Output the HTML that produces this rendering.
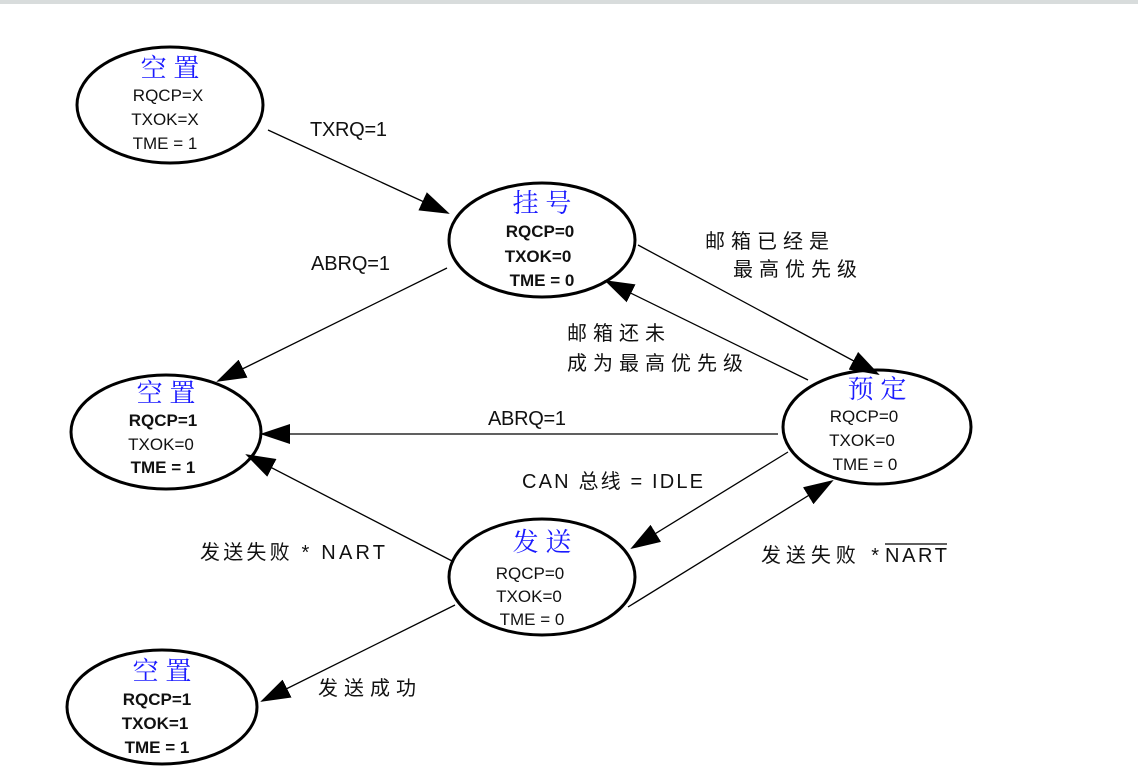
<!DOCTYPE html>
<html><head><meta charset="utf-8"><style>
body{margin:0;background:#fff}
svg{display:block}
text{font-family:"Liberation Sans","Noto Sans CJK SC",sans-serif;}
.t{font-size:17px;text-anchor:middle;fill:#111}
.b{font-weight:bold}
.h{font-family:"Noto Serif CJK SC","Liberation Serif",serif;font-size:26px;fill:#1a1aff;text-anchor:middle}
.l{font-size:20px;fill:#111}
</style></head><body>
<svg width="1138" height="771" viewBox="0 0 1138 771">
<defs><marker id="a" markerWidth="30" markerHeight="20" refX="28" refY="10" orient="auto" markerUnits="userSpaceOnUse"><path d="M0,0 L30,10 L0,20 Z" fill="#000"/></marker></defs>
<rect x="0" y="0" width="1138" height="4" fill="#d8dcdc"/>
<g fill="none" stroke="#000" stroke-width="3">
<ellipse cx="170" cy="105" rx="93" ry="58"/>
<ellipse cx="542" cy="240" rx="93" ry="57"/>
<ellipse cx="166" cy="432" rx="95" ry="57"/>
<ellipse cx="877" cy="427" rx="94" ry="57"/>
<ellipse cx="542" cy="577" rx="93" ry="58"/>
<ellipse cx="162" cy="707" rx="95" ry="57"/>
</g>
<g stroke="#000" stroke-width="1.3" marker-end="url(#a)">
<line x1="268" y1="130" x2="448" y2="213"/>
<line x1="447" y1="268" x2="218" y2="381"/>
<line x1="638" y1="245" x2="878" y2="374"/>
<line x1="808" y1="380" x2="606" y2="281"/>
<line x1="778" y1="434" x2="262" y2="434"/>
<line x1="788" y1="452" x2="632" y2="548"/>
<line x1="628" y1="607" x2="832" y2="481"/>
<line x1="454" y1="562" x2="247" y2="455"/>
<line x1="455" y1="605" x2="262" y2="701"/>
</g>
<text class="h" x="170" y="77">空 置</text>
<text class="t" x="168" y="101">RQCP=X</text>
<text class="t" x="165" y="125">TXOK=X</text>
<text class="t" x="165" y="149">TME = 1</text>
<text class="h" x="542" y="212">挂 号</text>
<text class="t b" x="540" y="237">RQCP=0</text>
<text class="t b" x="538" y="262">TXOK=0</text>
<text class="t b" x="542" y="286">TME = 0</text>
<text class="h" x="166" y="402">空 置</text>
<text class="t b" x="163" y="426">RQCP=1</text>
<text class="t" x="161" y="450">TXOK=0</text>
<text class="t b" x="163" y="473">TME = 1</text>
<text class="h" x="877" y="398">预 定</text>
<text class="t" x="864" y="422">RQCP=0</text>
<text class="t" x="862" y="446">TXOK=0</text>
<text class="t" x="865" y="470">TME = 0</text>
<text class="h" x="542" y="551">发 送</text>
<text class="t" x="530" y="579">RQCP=0</text>
<text class="t" x="529" y="602">TXOK=0</text>
<text class="t" x="532" y="625">TME = 0</text>
<text class="h" x="162" y="680">空 置</text>
<text class="t b" x="157" y="705">RQCP=1</text>
<text class="t b" x="155" y="729">TXOK=1</text>
<text class="t b" x="157" y="753">TME = 1</text>
<text class="l" x="310" y="136" textLength="77">TXRQ=1</text>
<text class="l" x="311" y="270" textLength="79">ABRQ=1</text>
<text class="l" x="705" y="248" textLength="124">邮箱已经是</text>
<text class="l" x="733" y="276" textLength="124">最高优先级</text>
<text class="l" x="567" y="340" textLength="98">邮箱还未</text>
<text class="l" x="567" y="370" textLength="176">成为最高优先级</text>
<text class="l" x="488" y="425" textLength="78">ABRQ=1</text>
<text class="l" x="522" y="488" textLength="181">CAN 总线 = IDLE</text>
<text class="l" x="200" y="559" textLength="185">发送失败 * NART</text>
<text class="l" x="761" y="562" textLength="118">发送失败 *</text>
<text class="l" x="885" y="562" textLength="62">NART</text>
<line x1="885" y1="544" x2="947" y2="544" stroke="#000" stroke-width="1.3"/>
<text class="l" x="318" y="695" textLength="98">发送成功</text>
</svg>
</body></html>
